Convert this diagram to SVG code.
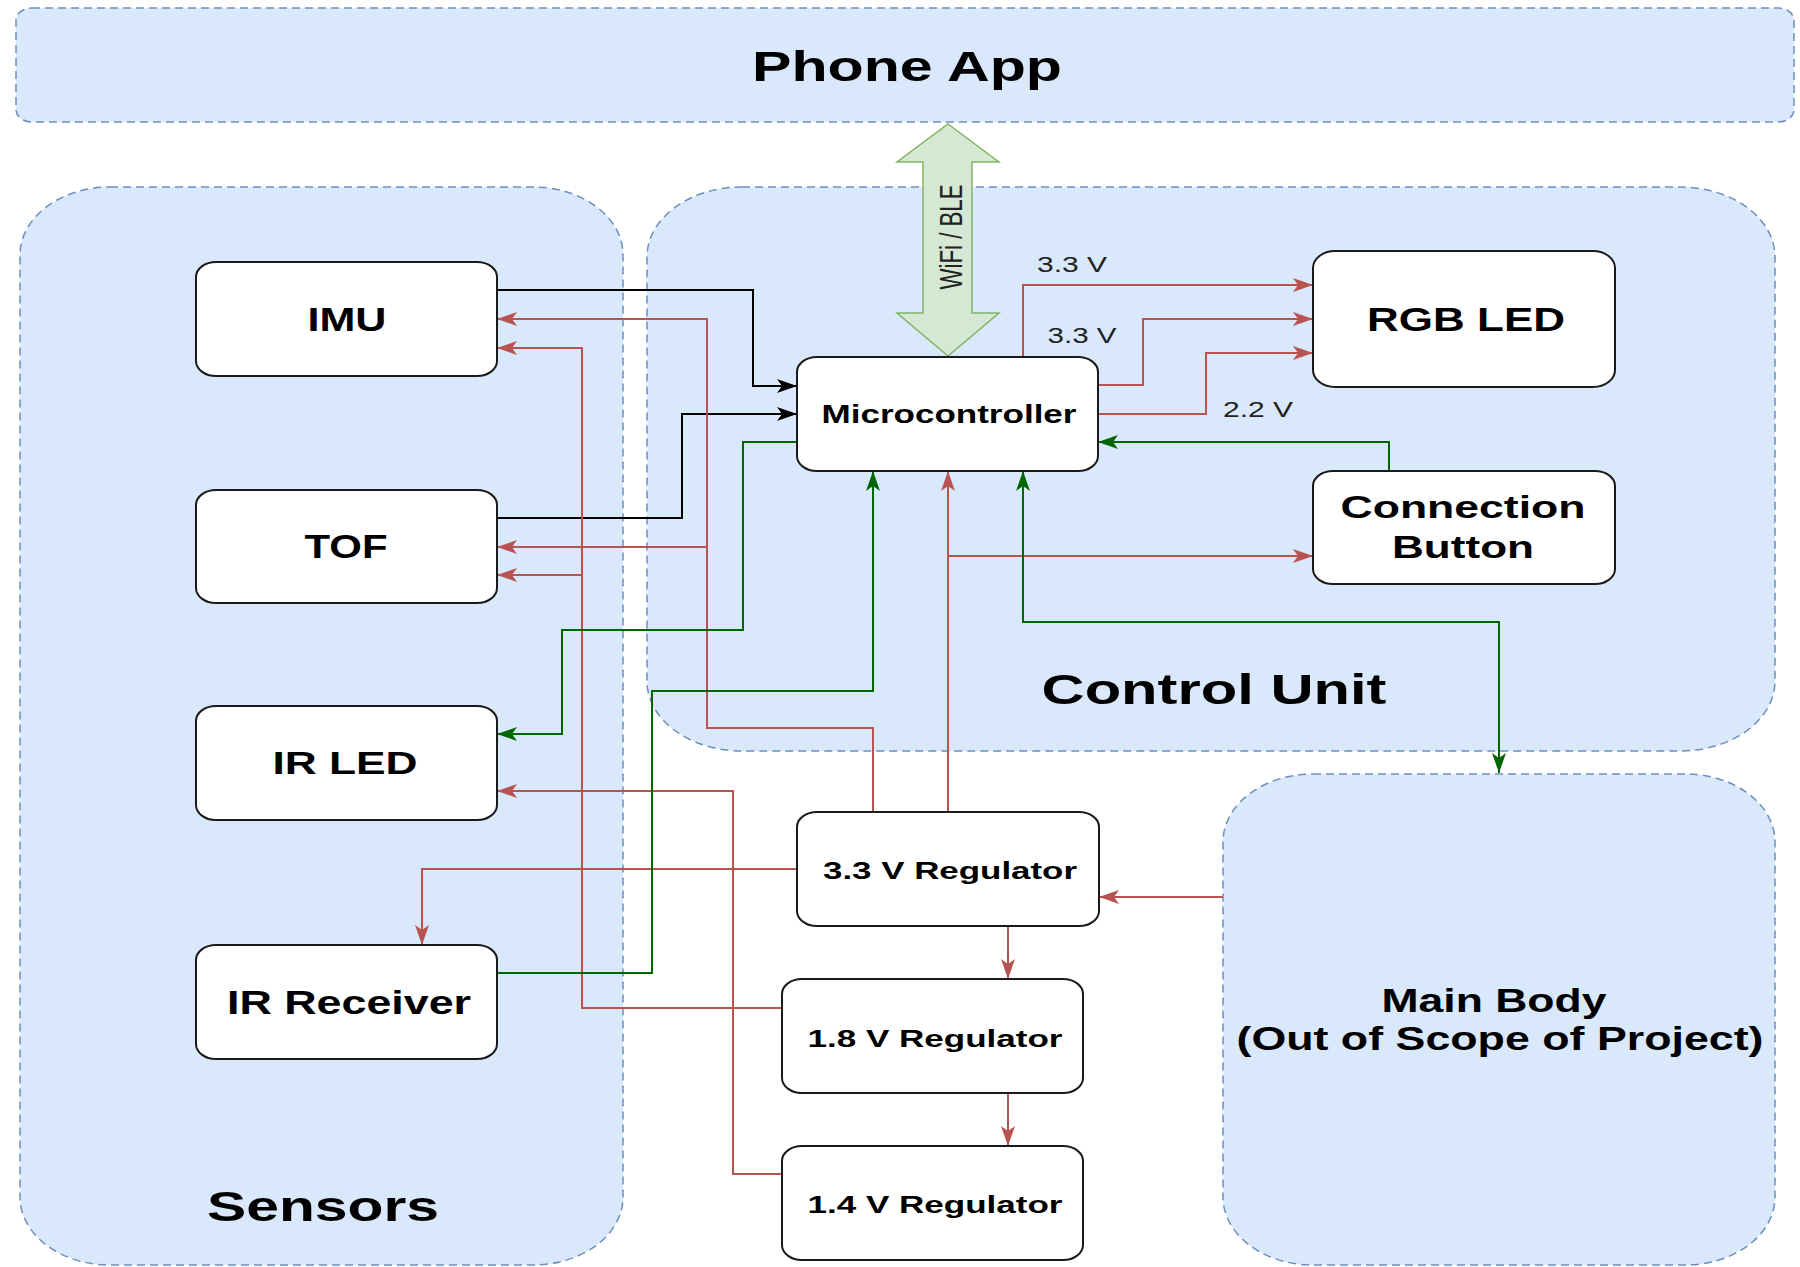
<svg xmlns="http://www.w3.org/2000/svg" width="1800" height="1267" viewBox="0 0 1800 1267">
  <style>
    .container { fill: #dae8fc; stroke: #6c8ebf; stroke-width: 1.5; stroke-dasharray: 8 5; }
    .node { fill: #ffffff; stroke: #1a1a1a; stroke-width: 2; }
    .label { font-family: "Liberation Sans", Arial, sans-serif; font-weight: bold; fill: #000000; text-anchor: middle; }
    .volt { font-family: "Liberation Sans", Arial, sans-serif; font-size: 22px; fill: #222222; text-anchor: middle; }
    .wire { fill: none; stroke-width: 2; }
    .red { stroke: #b85450; }
    .green { stroke: #006600; }
    .black { stroke: #000000; }
  </style>
  <defs>
    <marker id="arrowRed" viewBox="0 0 20 14" refX="20" refY="7" markerWidth="20" markerHeight="14" markerUnits="userSpaceOnUse" orient="auto-start-reverse">
      <path d="M0,0 L20,7 L0,14 L5,7 Z" fill="#b85450"/>
    </marker>
    <marker id="arrowGreen" viewBox="0 0 20 14" refX="20" refY="7" markerWidth="20" markerHeight="14" markerUnits="userSpaceOnUse" orient="auto-start-reverse">
      <path d="M0,0 L20,7 L0,14 L5,7 Z" fill="#006600"/>
    </marker>
    <marker id="arrowBlack" viewBox="0 0 20 14" refX="20" refY="7" markerWidth="20" markerHeight="14" markerUnits="userSpaceOnUse" orient="auto-start-reverse">
      <path d="M0,0 L20,7 L0,14 L5,7 Z" fill="#000000"/>
    </marker>
  </defs>

  <rect width="1800" height="1267" fill="#ffffff"/>

  <!-- Grouping containers -->
  <g id="phone-app">
    <rect class="container" x="16" y="8" width="1778" height="114" rx="16" ry="12"/>
    <text class="label" x="907" y="81" font-size="42" textLength="310" lengthAdjust="spacingAndGlyphs">Phone App</text>
  </g>
  <g id="sensors">
    <rect class="container" x="20" y="187" width="603" height="1078" rx="90" ry="68"/>
    <text class="label" x="323" y="1221" font-size="43" textLength="232" lengthAdjust="spacingAndGlyphs">Sensors</text>
  </g>
  <g id="control-unit">
    <rect class="container" x="647" y="187" width="1128" height="564" rx="95" ry="70"/>
    <text class="label" x="1214" y="704" font-size="43" textLength="345" lengthAdjust="spacingAndGlyphs">Control Unit</text>
  </g>
  <g id="main-body">
    <rect class="container" x="1223" y="774" width="552" height="491" rx="90" ry="68"/>
    <text class="label" x="1494" y="1012" font-size="33" textLength="225" lengthAdjust="spacingAndGlyphs">Main Body</text>
    <text class="label" x="1500" y="1050" font-size="33" textLength="527" lengthAdjust="spacingAndGlyphs">(Out of Scope of Project)</text>
  </g>

  <!-- Wireless link between app and microcontroller -->
  <g id="wireless-link">
    <polygon points="948,124 999,162 972,162 972,313 999,313 948,356 897,313 923,313 923,162 897,162" fill="#d5e8d4" stroke="#82b366" stroke-width="1.5"/>
    <text transform="translate(950,237) scale(1.4,1) rotate(-90)" x="0" y="8.6" font-family="Liberation Sans, Arial, sans-serif" font-size="23" fill="#222222" text-anchor="middle" textLength="105" lengthAdjust="spacingAndGlyphs">WiFi / BLE</text>
  </g>

  <!-- Connectors -->
  <g id="connectors">
    <!-- data lines -->
    <path class="wire black" d="M497,290 H753 V386 H797" marker-end="url(#arrowBlack)"/>
    <path class="wire black" d="M497,518 H682 V414 H797" marker-end="url(#arrowBlack)"/>

    <!-- power rails -->
    <path class="wire red" d="M873,812 V728 H707 V319 H497" marker-end="url(#arrowRed)"/>
    <path class="wire red" d="M707,547 H497" marker-end="url(#arrowRed)"/>
    <path class="wire red" d="M782,1008 H582 V348 H497" marker-end="url(#arrowRed)"/>
    <path class="wire red" d="M582,575 H497" marker-end="url(#arrowRed)"/>
    <path class="wire red" d="M948,812 V471" marker-end="url(#arrowRed)"/>
    <path class="wire red" d="M948,556 H1313" marker-end="url(#arrowRed)"/>
    <path class="wire red" d="M797,869 H422 V945" marker-end="url(#arrowRed)"/>
    <path class="wire red" d="M782,1174 H733 V791 H497" marker-end="url(#arrowRed)"/>
    <path class="wire red" d="M1223,897 H1099" marker-end="url(#arrowRed)"/>
    <path class="wire red" d="M1008,926 V979" marker-end="url(#arrowRed)"/>
    <path class="wire red" d="M1008,1093 V1146" marker-end="url(#arrowRed)"/>
    <path class="wire red" d="M1023,357 V285 H1313" marker-end="url(#arrowRed)"/>
    <path class="wire red" d="M1098,385 H1143 V319 H1313" marker-end="url(#arrowRed)"/>
    <path class="wire red" d="M1098,414 H1206 V353 H1313" marker-end="url(#arrowRed)"/>

    <!-- control signals -->
    <path class="wire green" d="M797,442 H743 V630 H562 V734 H497" marker-end="url(#arrowGreen)"/>
    <path class="wire green" d="M497,973 H652 V691 H873 V471" marker-end="url(#arrowGreen)"/>
    <path class="wire green" d="M1389,471 V442 H1098" marker-end="url(#arrowGreen)"/>
    <path class="wire green" d="M1023,471 V622 H1499 V773" marker-start="url(#arrowGreen)" marker-end="url(#arrowGreen)"/>

    <!-- voltage labels -->
    <text class="volt" x="1072" y="272" textLength="70" lengthAdjust="spacingAndGlyphs">3.3 V</text>
    <text class="volt" x="1082" y="343" textLength="69" lengthAdjust="spacingAndGlyphs">3.3 V</text>
    <text class="volt" x="1258" y="417" textLength="70" lengthAdjust="spacingAndGlyphs">2.2 V</text>
  </g>

  <!-- Nodes -->
  <g id="imu">
    <rect class="node" x="196" y="262" width="301" height="114" rx="20" ry="15"/>
    <text class="label" x="347" y="331" font-size="33" textLength="79" lengthAdjust="spacingAndGlyphs">IMU</text>
  </g>
  <g id="tof">
    <rect class="node" x="196" y="490" width="301" height="113" rx="20" ry="15"/>
    <text class="label" x="346" y="558" font-size="33" textLength="83" lengthAdjust="spacingAndGlyphs">TOF</text>
  </g>
  <g id="ir-led">
    <rect class="node" x="196" y="706" width="301" height="114" rx="20" ry="15"/>
    <text class="label" x="345" y="774" font-size="32" textLength="145" lengthAdjust="spacingAndGlyphs">IR LED</text>
  </g>
  <g id="ir-receiver">
    <rect class="node" x="196" y="945" width="301" height="114" rx="20" ry="15"/>
    <text class="label" x="349" y="1014" font-size="33" textLength="244" lengthAdjust="spacingAndGlyphs">IR Receiver</text>
  </g>
  <g id="microcontroller">
    <rect class="node" x="797" y="357" width="301" height="114" rx="20" ry="15"/>
    <text class="label" x="949" y="423" font-size="25" textLength="255" lengthAdjust="spacingAndGlyphs">Microcontroller</text>
  </g>
  <g id="rgb-led">
    <rect class="node" x="1313" y="251" width="302" height="136" rx="22" ry="17"/>
    <text class="label" x="1466" y="331" font-size="33" textLength="198" lengthAdjust="spacingAndGlyphs">RGB LED</text>
  </g>
  <g id="connection-button">
    <rect class="node" x="1313" y="471" width="302" height="113" rx="20" ry="15"/>
    <text class="label" x="1463" y="518" font-size="32" textLength="245" lengthAdjust="spacingAndGlyphs">Connection</text>
    <text class="label" x="1463" y="558" font-size="32" textLength="142" lengthAdjust="spacingAndGlyphs">Button</text>
  </g>
  <g id="regulator-3v3">
    <rect class="node" x="797" y="812" width="302" height="114" rx="20" ry="15"/>
    <text class="label" x="950" y="879" font-size="24" textLength="254" lengthAdjust="spacingAndGlyphs">3.3 V Regulator</text>
  </g>
  <g id="regulator-1v8">
    <rect class="node" x="782" y="979" width="301" height="114" rx="20" ry="15"/>
    <text class="label" x="935" y="1047" font-size="24" textLength="255" lengthAdjust="spacingAndGlyphs">1.8 V Regulator</text>
  </g>
  <g id="regulator-1v4">
    <rect class="node" x="782" y="1146" width="301" height="114" rx="20" ry="15"/>
    <text class="label" x="935" y="1213" font-size="24" textLength="255" lengthAdjust="spacingAndGlyphs">1.4 V Regulator</text>
  </g>
</svg>
